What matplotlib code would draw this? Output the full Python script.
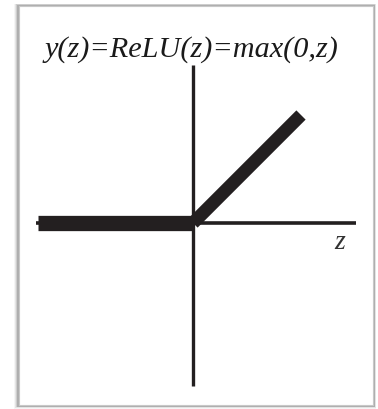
import matplotlib
matplotlib.use("Agg")
import matplotlib.pyplot as plt
from matplotlib.patches import Rectangle

# ReLU curve: points where the piecewise line changes
z_vals = [-1.435, 0.0, 1.0]
relu_vals = [0.0, 0.0, 1.0]

# Extent of the drawn axes
h_axis = [-1.455, 1.51]
v_axis = [-1.51, 1.463]

title = "y(z)=ReLU(z)=max(0,z)"
xlabel = "z"

W, H = 378, 409
ink = "#231f20"

fig = plt.figure(figsize=(W / 100, H / 100), dpi=100)
fig.patch.set_facecolor("white")

# Card-like frame with a soft shadow
def px_rect(x0, y0, x1, y1, **kw):
    return Rectangle((x0 / W, 1 - y1 / H), (x1 - x0) / W, (y1 - y0) / H,
                     transform=fig.transFigure, zorder=-5, **kw)

for grow, alpha in [(4, 0.06), (3, 0.10), (2, 0.16), (1, 0.25)]:
    fig.add_artist(px_rect(18 - grow, 5 - grow * 0.3, 374 + grow * 0.6, 406 + grow * 0.7,
                           facecolor="#555555", edgecolor="none", alpha=alpha))
fig.add_artist(px_rect(19, 5.5, 373, 404.5, facecolor="white",
                       edgecolor="#c8c8c8", linewidth=0.8))

ax = fig.add_axes([0, 0, 1, 1], zorder=2)
ax.set_facecolor("none")
ax.set_xlim((0 - 193) / 108, (W - 193) / 108)
ax.set_ylim((223 - H) / 108, 223 / 108)
ax.axis("off")

# Coordinate axes
ax.plot(h_axis, [0, 0], color=ink, lw=2.6, solid_capstyle="butt")
ax.plot([0, 0], v_axis, color=ink, lw=2.4, solid_capstyle="butt")

# ReLU: flat part and rising part
ax.plot(z_vals[:2], relu_vals[:2], color=ink, lw=11, solid_capstyle="butt")
ax.plot(z_vals[1:], relu_vals[1:], color=ink, lw=9.4, solid_capstyle="butt")

ax.text(1.361, -0.185, xlabel, fontsize=20, family="Liberation Serif",
        style="italic", color="#333333", ha="center", va="center")

fig.text(191 / W, 1 - 57 / H, title, fontsize=21.8, family="Liberation Serif",
         style="italic", color="#1a1a1a", ha="center", va="baseline", zorder=3)

fig.savefig("out.png", dpi=100)
